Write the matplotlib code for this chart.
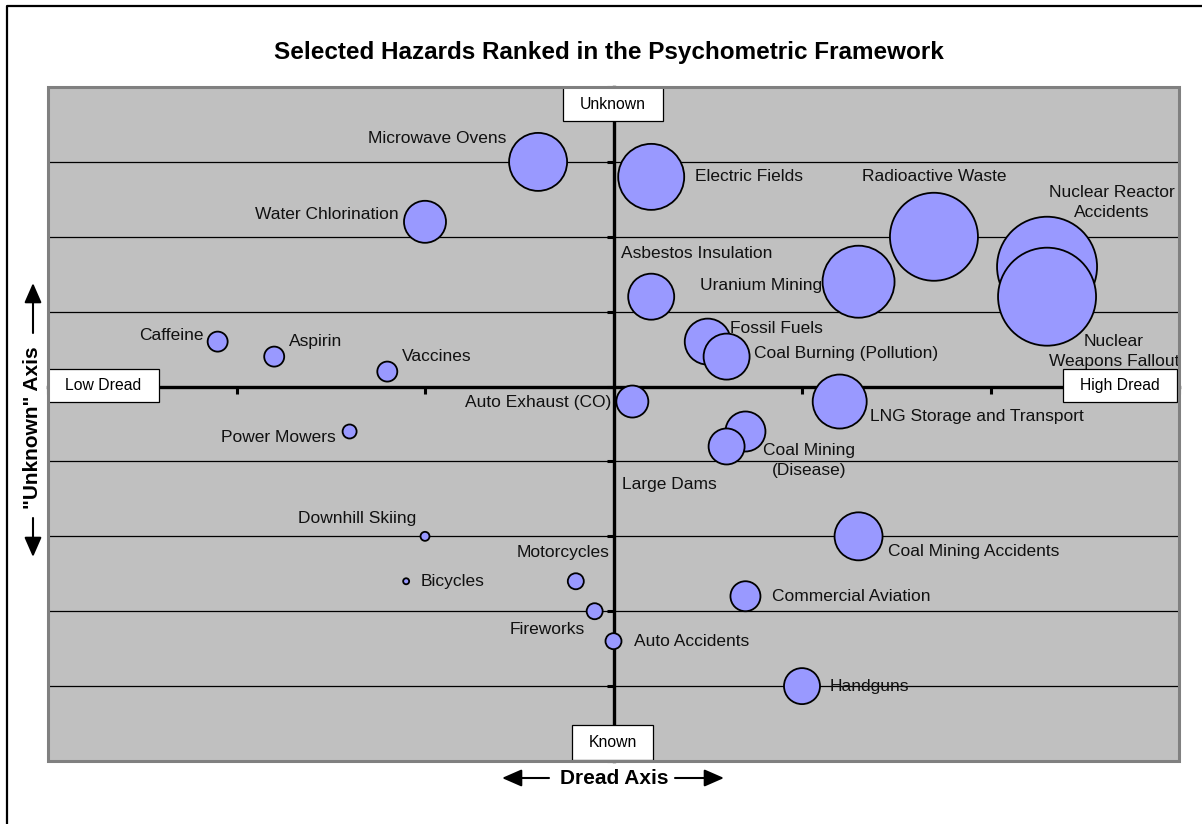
import matplotlib
matplotlib.use("Agg")
import matplotlib.pyplot as plt
from matplotlib.patches import Rectangle
from matplotlib.lines import Line2D

plt.rcParams['font.family'] = ['Liberation Sans', 'DejaVu Sans']

# data
hazards = ["Microwave Ovens", "Electric Fields", "Water Chlorination",
           "Radioactive Waste", "Nuclear Reactor\nAccidents",
           "Nuclear\nWeapons Fallout", "Uranium Mining", "Asbestos Insulation",
           "Caffeine", "Aspirin", "Vaccines", "Fossil Fuels",
           "Coal Burning (Pollution)", "Auto Exhaust (CO)",
           "LNG Storage and Transport", "Power Mowers", "Coal Mining\n(Disease)",
           "Large Dams", "Downhill Skiing", "Bicycles", "Motorcycles",
           "Fireworks", "Auto Accidents", "Commercial Aviation",
           "Coal Mining Accidents", "Handguns"]
dread = [-0.4, 0.2, -1.0, 1.7, 2.3, 2.3, 1.3, 0.2, -2.1, -1.8, -1.2, 0.5, 0.6,
         0.1, 1.2, -1.4, 0.7, 0.6, -1.0, -1.1, -0.2, -0.1, 0.0, 0.7, 1.3, 1.0]
unknown = [3.0, 2.8, 2.2, 2.0, 1.6, 1.2, 1.4, 1.2, 0.6, 0.4, 0.2, 0.6, 0.4,
           -0.2, -0.2, -0.6, -0.6, -0.8, -2.0, -2.6, -2.6, -3.0, -3.4, -2.8,
           -2.0, -4.0]
bubble = [29, 33, 21, 44, 50, 49, 36, 23, 10, 10, 10, 23, 23, 16, 27, 7, 20,
          18, 4.5, 3, 8, 8, 8, 15, 24, 18]

# label placement (offset pixels from bubble centre, alignment)
label_pos = [(-32, 23, 'right'), (44, 0, 'left'), (-26, 7, 'right'),
             (0, 60, 'center'), (65, 64, 'center'), (67, -55, 'center'),
             (-36, -4, 'right'), (45, 43, 'center'), (-14, 6, 'right'),
             (15, 15, 'left'), (15, 15, 'left'), (22, 13, 'left'),
             (27, 3, 'left'), (-21, -1, 'right'), (30, -15, 'left'),
             (-14, -6, 'right'), (64, -29, 'center'), (-57, -38, 'center'),
             (-68, 18, 'center'), (14, 0, 'left'), (-13, 29, 'center'),
             (-47, -18, 'center'), (20, 0, 'left'), (27, 0, 'left'),
             (29, -15, 'left'), (28, 0, 'left')]


def main():
    fig = plt.figure(figsize=(12.02, 8.24), dpi=100)
    ax = fig.add_axes([48 / 1202, 63 / 824, 1131 / 1202, 674 / 824])
    ax.set_facecolor("#C0C0C0")
    ax.set_xlim(-3, 3)
    ax.set_ylim(-5, 4)

    sizes = [(2 * r * 0.72) ** 2 for r in bubble]
    ax.scatter(dread, unknown, s=sizes, color="#9999FF", edgecolor="black",
               linewidth=1.3, zorder=3)

    for name, x, y, (dx, dy, ha) in zip(hazards, dread, unknown, label_pos):
        ax.annotate(name, (x, y), xytext=(dx, dy), textcoords="offset pixels",
                    ha=ha, va="center", multialignment="center", fontsize=12.5,
                    linespacing=1.45, color="#111111", zorder=4)

    # axes crossing at the origin
    for side in ["top", "right"]:
        ax.spines[side].set_visible(False)
    ax.spines["left"].set_position(("data", 0))
    ax.spines["bottom"].set_position(("data", 0))
    ax.spines["left"].set_linewidth(2.4)
    ax.spines["bottom"].set_linewidth(2.4)
    ax.set_xticks(range(-3, 4))
    ax.set_yticks(range(-5, 5))
    ax.set_xticklabels([])
    ax.set_yticklabels([])
    ax.tick_params(direction="out", length=5, width=2.2)
    ax.yaxis.grid(True, color="black", linewidth=0.9)
    ax.set_axisbelow(True)
    ax.add_patch(Rectangle((0, 0), 1, 1, transform=ax.transAxes, fill=False,
                           edgecolor="#808080", linewidth=2.2, clip_on=False,
                           zorder=6))

    # end labels in white boxes
    boxes = [(-3.0, -0.21, 0.59, 0.45, "Low Dread"),
             (2.385, -0.21, 0.605, 0.45, "High Dread"),
             (-0.27, 3.54, 0.53, 0.46, "Unknown"),
             (-0.218, -4.98, 0.425, 0.46, "Known")]
    for bx, by, bw, bh, txt in boxes:
        ax.add_patch(Rectangle((bx, by), bw, bh, facecolor="white",
                               edgecolor="black", linewidth=0.9, zorder=5))
        ax.text(bx + bw / 2, by + bh / 2, txt, ha="center", va="center",
                fontsize=11.3, zorder=6)

    fig.text(609 / 1202, 1 - 52 / 824,
             "Selected Hazards Ranked in the Psychometric Framework",
             ha="center", va="center", fontsize=17.5, fontweight="bold")
    fig.text(614 / 1202, 1 - 778 / 824, "Dread Axis", ha="center",
             va="center", fontsize=15, fontweight="bold")
    fig.text(33 / 1202, 1 - 428 / 824, '"Unknown" Axis', ha="center",
             va="center", fontsize=15, fontweight="bold", rotation=90)

    arrows = [((549, 46), (502, 46)), ((675, 46), (724, 46)),
              ((33, 491), (33, 541)), ((33, 306), (33, 267))]
    for start, end in arrows:
        ax.annotate("", xy=end, xytext=start, xycoords="figure pixels",
                    textcoords="figure pixels", annotation_clip=False,
                    arrowprops=dict(arrowstyle="-|>,head_length=0.8,head_width=0.35",
                                    color="black", lw=1.5, shrinkA=0,
                                    shrinkB=0, mutation_scale=15))

    # outer chart border (left and top visible)
    fig.add_artist(Line2D([7 / 1202, 7 / 1202, 1], [0, 1 - 6 / 824, 1 - 6 / 824],
                          transform=fig.transFigure, color="black",
                          linewidth=1.6))

    fig.savefig("out.png", dpi=100)


if __name__ == "__main__":
    main()
